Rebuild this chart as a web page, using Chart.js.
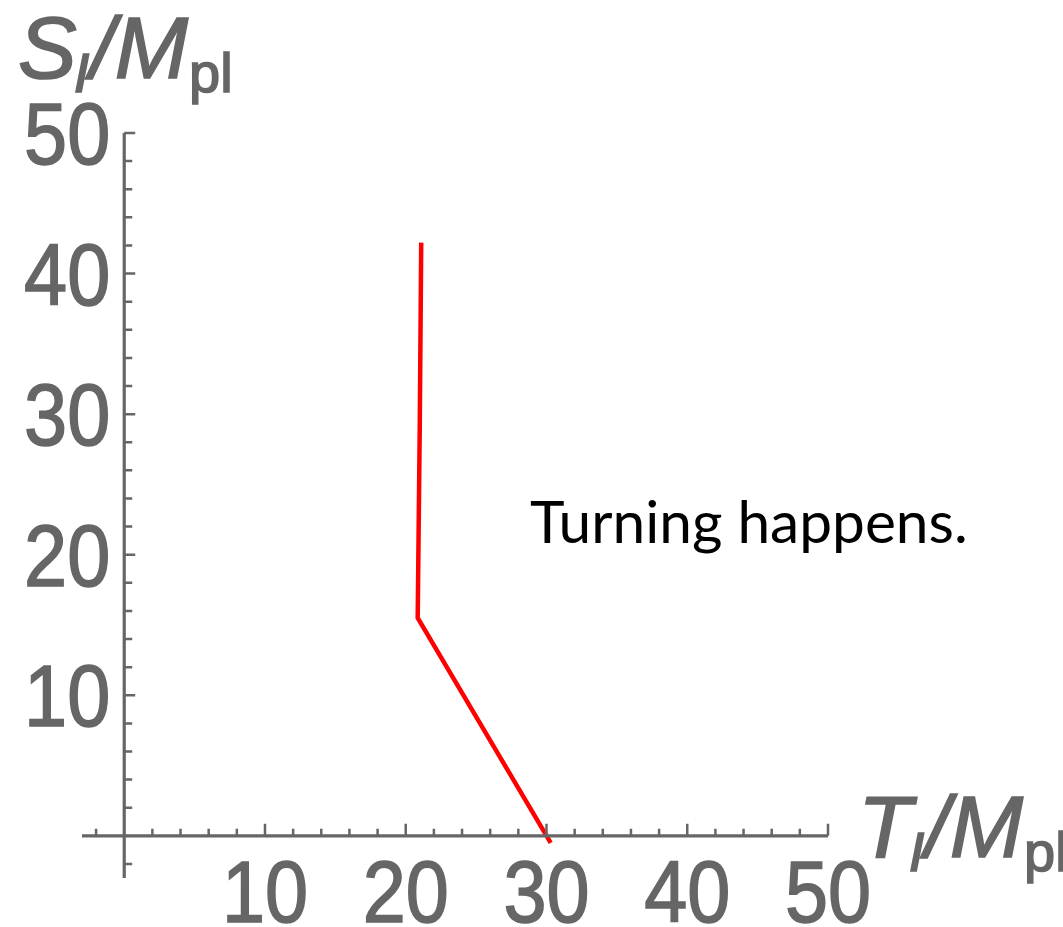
<!DOCTYPE html>
<html>
<head>
<meta charset="utf-8">
<script src="https://cdn.jsdelivr.net/npm/chart.js@4/dist/chart.umd.min.js"></script>
<style>
  html, body { margin: 0; padding: 0; background: #fff; }
  #wrap { width: 1063px; height: 927px; position: relative; }
</style>
</head>
<body>
<div id="wrap"><canvas id="myCanvas" width="1063" height="927"></canvas></div>
<script>
// curve (T_I/M_pl, S_I/M_pl)
const curveT = [21.1, 21.0, 20.85, 30.3];
const curveS = [42.2, 29.5, 15.5, -0.5];

// axes
const tickLabelsX = [10, 20, 30, 40, 50];
const tickLabelsY = [10, 20, 30, 40, 50];
const minorStep = 2;
const axisMin = -3;
const axisMax = 50;

const note = "Turning happens.";

const axisGray = "#666666";

function heavyText(ctx, txt, x, y) {
  ctx.fillText(txt, x, y);
  ctx.strokeText(txt, x, y);
}

function drawTitle(ctx, x, base, main, sub) {
  // main italic letter, italic subscript, "/M" italic, "pl" subscript upright
  ctx.fillStyle = axisGray;
  ctx.strokeStyle = axisGray;
  ctx.lineWidth = 1.6;
  ctx.textBaseline = "alphabetic";
  ctx.textAlign = "left";
  ctx.font = "italic 88px 'Liberation Sans', Arial, sans-serif";
  heavyText(ctx, main, x, base);
  x += ctx.measureText(main).width - 3;
  ctx.font = "italic 56px 'Liberation Sans', Arial, sans-serif";
  heavyText(ctx, sub, x, base + 14);
  x += ctx.measureText(sub).width + 1;
  ctx.font = "italic 88px 'Liberation Sans', Arial, sans-serif";
  heavyText(ctx, "/M", x, base);
  x += ctx.measureText("/M").width + 1;
  ctx.font = "56px 'Liberation Sans', Arial, sans-serif";
  heavyText(ctx, "pl", x, base + 14);
}

function squeezedText(ctx, txt, x, y, sx) {
  ctx.save();
  ctx.translate(x, y);
  ctx.scale(sx, 1);
  heavyText(ctx, txt, 0, 0);
  ctx.restore();
}

const axesPlugin = {
  id: "mmaAxes",
  afterDatasetsDraw(chart) {
    const ctx = chart.ctx;
    const xs = chart.scales.x, ys = chart.scales.y;
    const x0 = xs.getPixelForValue(0), y0 = ys.getPixelForValue(0);
    const xL = xs.getPixelForValue(axisMin), xR = xs.getPixelForValue(axisMax);
    const yB = ys.getPixelForValue(axisMin), yT = ys.getPixelForValue(axisMax);

    ctx.save();
    ctx.strokeStyle = axisGray;
    ctx.lineCap = "butt";

    // axis lines
    ctx.lineWidth = 3.2;
    ctx.beginPath();
    ctx.moveTo(xL, y0); ctx.lineTo(xR, y0);
    ctx.moveTo(x0, yB); ctx.lineTo(x0, yT);
    ctx.stroke();

    // ticks (inward)
    ctx.lineWidth = 2.5;
    ctx.beginPath();
    for (let v = -2; v <= axisMax; v += minorStep) {
      if (v === 0) continue;
      const major = v % 10 === 0;
      const px = xs.getPixelForValue(v);
      ctx.moveTo(px, y0); ctx.lineTo(px, y0 - (major ? 12 : 7));
      const py = ys.getPixelForValue(v);
      ctx.moveTo(x0, py); ctx.lineTo(x0 + (major ? 11 : 8), py);
    }
    ctx.stroke();

    // tick labels
    ctx.fillStyle = axisGray;
    ctx.lineWidth = 1.6;
    ctx.font = "88px 'Liberation Sans', Arial, sans-serif";
    ctx.textBaseline = "alphabetic";
    tickLabelsX.forEach(v => {
      const t = String(v);
      const w = ctx.measureText(t).width * 0.88;
      squeezedText(ctx, t, xs.getPixelForValue(v) - w / 2, y0 + 86, 0.88);
    });
    tickLabelsY.forEach(v => {
      const t = String(v);
      const w = ctx.measureText(t).width * 0.88;
      squeezedText(ctx, t, x0 - 14 - w, ys.getPixelForValue(v) + 31, 0.88);
    });

    // axis titles
    drawTitle(ctx, 18, 78, "S", "I");
    drawTitle(ctx, 858, 857, "T", "I");

    // annotation
    ctx.fillStyle = "#000";
    let fs = 60;
    ctx.font = fs + "px Lato, 'Open Sans', sans-serif";
    const w = ctx.measureText(note).width;
    fs = fs * 438 / w;
    ctx.font = fs.toFixed(1) + "px Lato, 'Open Sans', sans-serif";
    ctx.textAlign = "left";
    ctx.fillText(note, 530, 543);
    ctx.restore();
  }
};

const points = curveT.map((t, i) => ({ x: t, y: curveS[i] }));

const canvas = document.getElementById("myCanvas");
const context = canvas.getContext("2d");
new Chart(context, {
  type: "scatter",
  data: {
    datasets: [{
      data: points,
      showLine: true,
      borderColor: "#ff0000",
      backgroundColor: "#ff0000",
      borderWidth: 4.5,
      pointRadius: 0,
      tension: 0,
      clip: false,
    }],
  },
  options: {
    responsive: false,
    animation: false,
    events: [],
    layout: { padding: { left: 82, right: 235, top: 133, bottom: 49 } },
    plugins: { legend: { display: false }, tooltip: { enabled: false } },
    scales: {
      x: { type: "linear", min: axisMin, max: axisMax, display: false },
      y: { type: "linear", min: axisMin, max: axisMax, display: false },
    },
  },
  plugins: [axesPlugin],
});
</script>
</body>
</html>
